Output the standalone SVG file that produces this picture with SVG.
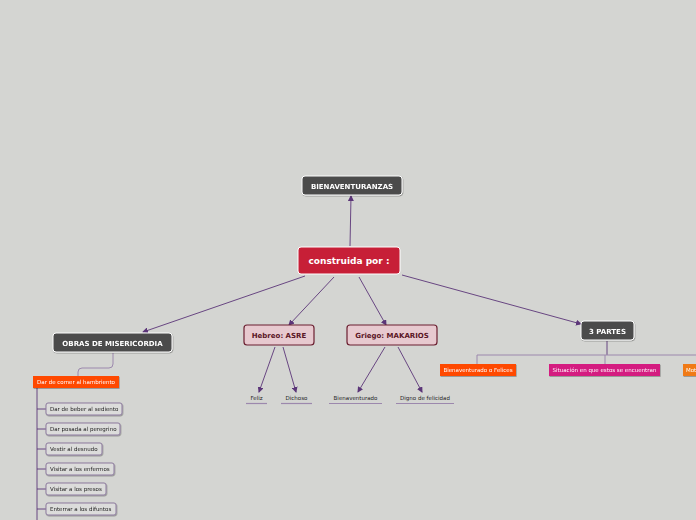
<svg xmlns="http://www.w3.org/2000/svg" width="696" height="520" viewBox="0 0 696 520">
<defs>
<marker id="arr" markerWidth="6" markerHeight="6" refX="5" refY="3" orient="auto" markerUnits="userSpaceOnUse">
<path d="M0,0 L6,3 L0,6 Z" fill="#5b3578"/>
</marker>
<filter id="sh" x="-10%" y="-20%" width="120%" height="150%">
<feDropShadow dx="0.6" dy="0.8" stdDeviation="0.6" flood-color="#000" flood-opacity="0.35"/>
</filter>
</defs>
<style>
text{font-family:"DejaVu Sans","Verdana",sans-serif;}
.dark rect{fill:#4b4b4b;stroke:#ffffff;stroke-width:1;}
.dark text{fill:#ffffff;font-weight:bold;font-size:7px;text-anchor:middle;}
.pink rect{fill:#e7c9cf;stroke:#6b1f30;stroke-width:1.2;}
.pink text{fill:#5a1525;font-weight:bold;font-size:7px;text-anchor:middle;}
.leaf rect{fill:#dcdcdb;stroke:#8d7b9e;stroke-width:1;}
.leaf text{fill:#222;font-size:5.5px;}
.col text{fill:#ffffff;font-size:5.5px;}
.plain text{fill:#222;font-size:5.5px;text-anchor:middle;}
.plain line{stroke:#9c88ad;stroke-width:1.2;}
.conn path,.conn line{fill:none;stroke:#5b3578;stroke-width:0.9;}
.conn .lt{stroke:#9c88ad;stroke-width:1;}
</style>
<rect width="696" height="520" fill="#d4d5d2"/>

<g id="connectors" class="conn">
<line x1="350" y1="246" x2="351" y2="196" marker-end="url(#arr)"/>
<line x1="305" y1="276" x2="143" y2="332" marker-end="url(#arr)"/>
<line x1="334" y1="277" x2="289" y2="325" marker-end="url(#arr)"/>
<line x1="359" y1="277" x2="386" y2="325" marker-end="url(#arr)"/>
<line x1="402" y1="275" x2="581" y2="324" marker-end="url(#arr)"/>
<line x1="275" y1="347" x2="259" y2="392" marker-end="url(#arr)"/>
<line x1="283" y1="347" x2="296" y2="392" marker-end="url(#arr)"/>
<line x1="385" y1="347" x2="358" y2="392" marker-end="url(#arr)"/>
<line x1="398" y1="347" x2="422" y2="392" marker-end="url(#arr)"/>
<path class="lt" d="M113,353 V364 Q113,368 109,368 H82 Q78,368 78,372 V376"/>
<path d="M607,341 V355"/>
<path class="lt" d="M477,364 V355 H696 M605,355 V364"/>
<path d="M37,388 V520 M37,409 H46 M37,429 H46 M37,449 H46 M37,469 H46 M37,489 H46 M37,509 H46" stroke="#5b3578" stroke-width="1.2"/>
</g>

<g id="n-central">
<rect x="298" y="247" width="102" height="27" rx="3" fill="#c71f37" stroke="#ffffff" stroke-width="1"/>
<text x="349" y="264" font-size="9" font-weight="bold" fill="#ffffff" text-anchor="middle">construida por :</text>
</g>
<g id="n-bien" class="dark" filter="url(#sh)">
<rect x="302" y="176" width="100" height="19" rx="3"/>
<text x="352" y="188.5">BIENAVENTURANZAS</text>
</g>
<g id="n-obras" class="dark" filter="url(#sh)">
<rect x="53" y="333" width="119" height="19" rx="3"/>
<text x="112.5" y="345.5">OBRAS DE MISERICORDIA</text>
</g>
<g id="n-partes" class="dark" filter="url(#sh)">
<rect x="581" y="321" width="53" height="19" rx="3"/>
<text x="607.5" y="333.5">3 PARTES</text>
</g>
<g id="n-hebreo" class="pink">
<rect x="244" y="325" width="70" height="20" rx="3"/>
<text x="279" y="337.5">Hebreo: ASRE</text>
</g>
<g id="n-griego" class="pink">
<rect x="347" y="325" width="90" height="20" rx="3"/>
<text x="392" y="337.5">Griego: MAKARIOS</text>
</g>

<g id="n-feliz" class="plain"><text x="256.5" y="400">Feliz</text><line x1="246" y1="403.5" x2="267" y2="403.5"/></g>
<g id="n-dichoso" class="plain"><text x="296.5" y="400">Dichoso</text><line x1="281" y1="403.5" x2="312" y2="403.5"/></g>
<g id="n-bienav" class="plain"><text x="355.5" y="400">Bienaventurado</text><line x1="329" y1="403.5" x2="382" y2="403.5"/></g>
<g id="n-digno" class="plain"><text x="425" y="400">Digno de felicidad</text><line x1="396" y1="403.5" x2="454" y2="403.5"/></g>

<g id="n-felices" class="col" filter="url(#sh)">
<rect x="440" y="364" width="76" height="12" fill="#ff4a05"/>
<text x="478" y="372" text-anchor="middle">Bienaventurado o Felices</text>
</g>
<g id="n-situacion" class="col" filter="url(#sh)">
<rect x="549" y="364" width="111" height="12" fill="#d41a80"/>
<text x="604.5" y="372" text-anchor="middle">Situación en que estos se encuentran</text>
</g>
<g id="n-mot" class="col" filter="url(#sh)">
<rect x="683" y="364" width="30" height="12" fill="#f07a12"/>
<text x="686" y="372">Mot</text>
</g>

<g id="n-comer" class="col" filter="url(#sh)">
<rect x="33" y="376" width="86" height="12" fill="#ff4a05"/>
<text x="76" y="384" text-anchor="middle">Dar de comer al hambriento</text>
</g>
<g id="n-beber" class="leaf" filter="url(#sh)"><rect x="46" y="403" width="76" height="12" rx="2"/><text x="50" y="411">Dar de beber al sediento</text></g>
<g id="n-posada" class="leaf" filter="url(#sh)"><rect x="46" y="423" width="74" height="12" rx="2"/><text x="50" y="431">Dar posada al peregrino</text></g>
<g id="n-vestir" class="leaf" filter="url(#sh)"><rect x="46" y="443" width="56" height="12" rx="2"/><text x="50" y="451">Vestir al desnudo</text></g>
<g id="n-enfermos" class="leaf" filter="url(#sh)"><rect x="46" y="463" width="68" height="12" rx="2"/><text x="50" y="471">Visitar a los enfermos</text></g>
<g id="n-presos" class="leaf" filter="url(#sh)"><rect x="46" y="483" width="60" height="12" rx="2"/><text x="50" y="491">Visitar a los presos</text></g>
<g id="n-difuntos" class="leaf" filter="url(#sh)"><rect x="46" y="503" width="70" height="12" rx="2"/><text x="50" y="511">Enterrar a los difuntos</text></g>
</svg>
